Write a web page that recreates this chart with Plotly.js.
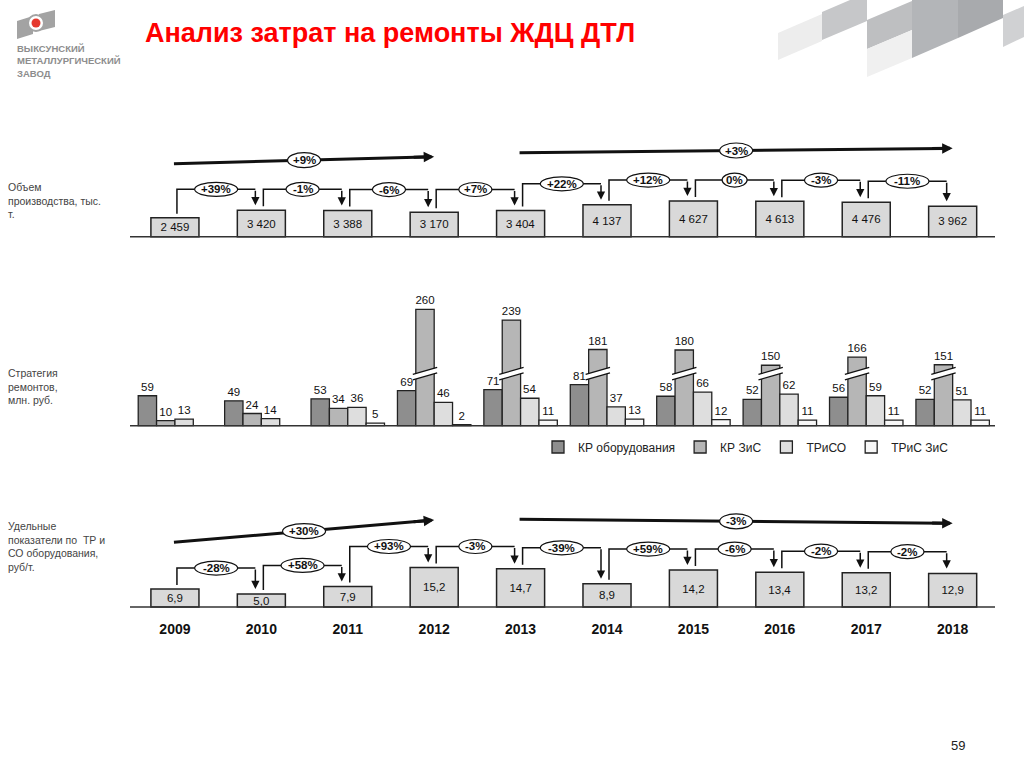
<!DOCTYPE html>
<html><head><meta charset="utf-8">
<script src="https://cdn.plot.ly/plotly-3.0.1.min.js"></script>
<style>html,body{margin:0;padding:0;background:#fff;}#chart{width:1024px;height:767px;}</style>
</head><body><div id="chart"></div>
<script>
// ---------- DATA ----------
const years = ['2009','2010','2011','2012','2013','2014','2015','2016','2017','2018'];
const prodVolume = [2459, 3420, 3388, 3170, 3404, 4137, 4627, 4613, 4476, 3962];
const prodChange = ['+39%','-1%','-6%','+7%','+22%','+12%','0%','-3%','-11%'];
const prodTrend = ['+9%','+3%'];
const seriesNames = ['КР оборудования','КР ЗиС','ТРиСО','ТРиС ЗиС'];
const krEquip = [59, 49, 53, 69, 71, 81, 58, 52, 56, 52];
const krZiS   = [10, 24, 34, 260, 239, 181, 180, 150, 166, 151];
const trSO    = [13, 14, 36, 46, 54, 37, 66, 62, 59, 51];
const trZiS   = [null, null, 5, 2, 11, 13, 12, 11, 11, 11];
const specCost = [6.9, 5.0, 7.9, 15.2, 14.7, 8.9, 14.2, 13.4, 13.2, 12.9];
const specChange = ['-28%','+58%','+93%','-3%','-39%','+59%','-6%','-2%','-2%'];
const specTrend = ['+30%','-3%'];
const trendSpans = [[0,3],[4,9]];
const panelLabels = ['Объем<br>производства, тыс.<br>т.', 'Стратегия<br>ремонтов,<br>млн. руб.', 'Удельные<br>показатели по  ТР и<br>СО оборудования,<br>руб/т.'];

// ---------- GEOMETRY / STYLE ----------
const FONT = 'Liberation Sans, Arial, sans-serif';
const W = 1024, H = 767;
const PL = 130, PR = 29, PT = 100, PB = 158;
const PW = W - PL - PR, PH = H - PT - PB, BOT = H - PB;
const XMIN = -0.52, XMAX = 9.49;
const pxX = PW / (XMAX - XMIN);
const px2xp = px => (px - PL) / PW;
const py2yp = py => (BOT - py) / PH;
function panel(base, top, s) { return {domain: [py2yp(base + 2), py2yp(top)], range: [-2 / s, (base - top) / s]}; }
const P1 = {base: 236.7, top: 138, s: 0.0077};
const P2 = {base: 425.7, top: 292, s: 0.508};
const P3 = {base: 607, top: 505, s: 2.6};
const BOXW = 0.556, BARGAP = 0.15;
const BREAK_MIN = 120, BREAK_CUT = 31, BREAK_PX = 52;

const idx = years.map((_, i) => i);
const fmtInt = v => String(v).replace(/\B(?=(\d{3})+(?!\d))/g, ' ');
const fmtDec = v => v.toFixed(1).replace('.', ',');

const shapes = [], annots = [];

function ellipse(xm, ym, label, yref, h) {
  const w = Math.max(25, label.length * 10 + 3);
  shapes.push({type: 'circle', xref: 'x', yref: yref, xsizemode: 'pixel', ysizemode: 'pixel',
    xanchor: xm, yanchor: ym, x0: -w / 2, x1: w / 2, y0: -h / 2, y1: h / 2,
    fillcolor: '#fff', line: {color: '#111', width: 1.2}});
  annots.push({xref: 'x', yref: yref, x: xm, y: ym, text: label, showarrow: false,
    font: {family: FONT, size: 11.5, color: '#111', weight: 'bold'}, xanchor: 'center', yanchor: 'middle'});
}

function brackets(vals, labels, yref, s) {
  const up = 4 / s, tip = 5 / s, lev = 21 / s;
  const dx0 = 2 / pxX, dx1 = 6 / pxX;
  for (let i = 0; i < vals.length - 1; i++) {
    const x0 = i + dx0, x1 = i + 1 - dx1;
    const yL = Math.max(vals[i], vals[i + 1]) + lev;
    shapes.push({type: 'path', xref: 'x', yref: yref,
      path: `M${x0},${vals[i] + up} L${x0},${yL} L${x1},${yL}`, line: {color: '#111', width: 1.5}});
    annots.push({xref: 'x', yref: yref, axref: 'x', ayref: yref, x: x1, y: vals[i + 1] + tip, ax: x1, ay: yL,
      text: '', showarrow: true, arrowhead: 2, arrowsize: 1.1, arrowwidth: 1.5, arrowcolor: '#111', standoff: 0});
    ellipse((x0 + x1) / 2, yL, labels[i], yref, 14);
  }
}

function trend(span, label, yref, s, y0px, y1px) {
  const x0 = span[0] - 1 / pxX, x1 = span[1];
  const ya = y0px / s, yb = y1px / s;
  const slope = (yb - ya) / (x1 - x0);
  const xe = x1 - 9 / pxX, ye = yb - slope * 9 / pxX;
  shapes.push({type: 'line', xref: 'x', yref: yref, x0: x0, y0: ya, x1: xe, y1: ye, line: {color: '#111', width: 3}});
  const xt = x1 - 22 / pxX, yt = yb - slope * 22 / pxX;
  annots.push({xref: 'x', yref: yref, axref: 'x', ayref: yref, x: x1, y: yb, ax: xt, ay: yt,
    text: '', showarrow: true, arrowhead: 2, arrowsize: 0.7, arrowwidth: 3, arrowcolor: '#111', standoff: 0});
  ellipse((x0 + x1) / 2, (ya + yb) / 2, label, yref, 15);
}

// baselines
['y', 'y2', 'y3'].forEach(r => shapes.push({type: 'line', xref: 'paper', x0: 0, x1: 1, yref: r, y0: 0, y1: 0,
  line: {color: '#333', width: 1.5}}));

brackets(prodVolume, prodChange, 'y', P1.s);
trend(trendSpans[0], prodTrend[0], 'y', P1.s, 73, 80);
trend(trendSpans[1], prodTrend[1], 'y', P1.s, 84, 88.4);
brackets(specCost, specChange, 'y3', P3.s);
trend(trendSpans[0], specTrend[0], 'y3', P3.s, 64.7, 87);
trend(trendSpans[1], specTrend[1], 'y3', P3.s, 87.7, 83.7);

// middle panel: broken bars
const krZiSDisp = krZiS.map(v => v > BREAK_MIN ? v - BREAK_CUT : v);
const bw = (1 - BARGAP) / 4;
krZiS.forEach((v, i) => {
  if (v <= BREAK_MIN) return;
  const c = i - (1 - BARGAP) / 2 + 1.5 * bw;
  const xl = c - bw / 2 - 3 / pxX, xr = c + bw / 2 + 3 / pxX;
  const yb = BREAK_PX / P2.s, dy = 7 / P2.s, g = 5.5 / P2.s;
  const l0 = yb - g / 2 - dy / 2, r0 = yb - g / 2 + dy / 2;
  shapes.push({type: 'path', xref: 'x', yref: 'y2',
    path: `M${xl},${l0} L${xr},${r0} L${xr},${r0 + g} L${xl},${l0 + g} Z`, fillcolor: '#fff', line: {width: 0}});
  shapes.push({type: 'line', xref: 'x', yref: 'y2', x0: xl, y0: l0, x1: xr, y1: r0, line: {color: '#111', width: 1.3}});
  shapes.push({type: 'line', xref: 'x', yref: 'y2', x0: xl, y0: l0 + g, x1: xr, y1: r0 + g, line: {color: '#111', width: 1.3}});
});

// decoration (top-right) and logo
function poly(pts, color) {
  return {type: 'path', xref: 'paper', yref: 'paper', layer: 'below',
    path: 'M' + pts.map(p => px2xp(p[0]) + ',' + py2yp(p[1])).join(' L') + ' Z', fillcolor: color, line: {width: 0}};
}
shapes.push(poly([[778,33],[822,14],[822,41],[778,60]], '#ededed'));
shapes.push(poly([[822,12],[850,0],[867,0],[867,21],[822,40]], '#c6c7c9'));
shapes.push(poly([[867,20],[912,1],[912,30],[867,49]], '#bebfc1'));
shapes.push(poly([[867,49],[912,30],[912,58],[867,77]], '#f0f0f0'));
shapes.push(poly([[912,0],[958,0],[958,38],[912,58]], '#b3b5b8'));
shapes.push(poly([[958,0],[1003,0],[1003,18],[958,38]], '#a8aaad'));
shapes.push(poly([[1003,15],[1024,6],[1024,37],[1003,47]], '#d0d1d3'));
shapes.push(poly([[17,21],[33,16],[33,34],[17,39]], '#a3a3a3'));
shapes.push(poly([[39,14],[55,10],[55,27],[39,31]], '#a3a3a3'));
function circ(cx, cy, r, color, lc) {
  return {type: 'circle', xref: 'paper', yref: 'paper', x0: px2xp(cx - r), x1: px2xp(cx + r),
    y0: py2yp(cy + r), y1: py2yp(cy - r), fillcolor: color, line: lc ? {color: lc, width: 2} : {width: 0}, layer: 'below'};
}
shapes.push(circ(36, 23, 8, '#ffffff', '#a3a3a3'));
shapes.push(circ(36, 23, 4.5, '#e5392e'));

annots.push({xref: 'paper', yref: 'paper', x: px2xp(15), y: py2yp(41), xanchor: 'left', yanchor: 'top', align: 'left',
  showarrow: false, text: 'ВЫКСУНСКИЙ<br>МЕТАЛЛУРГИЧЕСКИЙ<br>ЗАВОД',
  font: {family: FONT, size: 9.5, color: '#8d8d8d', weight: 'bold'}});
[[179, 0], [365, 1], [518, 2]].forEach(([py, k]) => annots.push({xref: 'paper', yref: 'paper', x: px2xp(6), y: py2yp(py),
  xanchor: 'left', yanchor: 'top', align: 'left', showarrow: false, text: panelLabels[k],
  font: {family: FONT, size: 10.5, color: '#444'}}));
annots.push({xref: 'paper', yref: 'paper', x: px2xp(958), y: py2yp(745), xanchor: 'center', yanchor: 'middle',
  showarrow: false, text: '59', font: {family: FONT, size: 13, color: '#222'}});

// ---------- TRACES ----------
const traces = [];
traces.push({type: 'bar', x: idx, y: prodVolume, xaxis: 'x', yaxis: 'y', width: BOXW,
  marker: {color: '#d9d9d9', line: {color: '#222', width: 1.5}},
  text: prodVolume.map(fmtInt), textposition: 'inside', insidetextanchor: 'middle', constraintext: 'none',
  textfont: {family: FONT, size: 11.5, color: '#111'}, showlegend: false, hoverinfo: 'skip', cliponaxis: false});
const midSeries = [krEquip, krZiSDisp, trSO, trZiS];
const midRaw = [krEquip, krZiS, trSO, trZiS];
const midColors = ['#8e8e8e', '#b6b6b6', '#dedede', '#f7f7f7'];
midSeries.forEach((ys, k) => traces.push({type: 'bar', name: seriesNames[k], x: idx, y: ys, xaxis: 'x', yaxis: 'y2',
  marker: {color: midColors[k], line: {color: '#222', width: 1.3}},
  text: midRaw[k].map(v => v == null ? '' : String(v)), textposition: 'outside', constraintext: 'none',
  textfont: {family: FONT, size: 11.5, color: '#111'}, cliponaxis: false, hoverinfo: 'skip'}));
traces.push({type: 'bar', x: idx, y: specCost, xaxis: 'x', yaxis: 'y3', width: BOXW,
  marker: {color: '#d9d9d9', line: {color: '#222', width: 1.5}},
  text: specCost.map(fmtDec), textposition: 'inside', insidetextanchor: 'middle', constraintext: 'none',
  textfont: {family: FONT, size: 11.5, color: '#111'}, showlegend: false, hoverinfo: 'skip', cliponaxis: false});

const p1 = panel(P1.base, P1.top, P1.s), p2 = panel(P2.base, P2.top, P2.s), p3 = panel(P3.base, P3.top, P3.s);
const yCommon = {showticklabels: false, showgrid: false, zeroline: false, ticks: '', showline: false, fixedrange: true};

const layout = {
  width: W, height: H, paper_bgcolor: '#fff', plot_bgcolor: 'rgba(0,0,0,0)',
  margin: {l: PL, r: PR, t: PT, b: PB, pad: 0, autoexpand: false},
  font: {family: FONT, color: '#111'},
  title: {text: 'Анализ затрат на ремонты ЖДЦ ДТЛ', xref: 'container', yref: 'container',
    x: 145 / W, xanchor: 'left', y: 1 - 33 / H, yanchor: 'middle',
    font: {family: FONT, size: 27, color: '#ff0000', weight: 'bold'}},
  barmode: 'group', bargap: BARGAP, bargroupgap: 0,
  showlegend: true,
  legend: {orientation: 'h', xref: 'paper', yref: 'paper', x: px2xp(746), y: py2yp(447),
    xanchor: 'center', yanchor: 'middle', font: {family: FONT, size: 12, color: '#222'}, bgcolor: 'rgba(0,0,0,0)'},
  xaxis: {domain: [0, 1], range: [XMIN, XMAX], anchor: 'y3', tickmode: 'array', tickvals: idx, ticktext: years,
    ticks: 'outside', ticklen: 7, tickcolor: 'rgba(0,0,0,0)', showgrid: false, zeroline: false, showline: false,
    tickfont: {family: FONT, size: 14, color: '#111', weight: 'bold'}, fixedrange: true},
  yaxis: Object.assign({domain: p1.domain, range: p1.range, anchor: 'x'}, yCommon),
  yaxis2: Object.assign({domain: p2.domain, range: p2.range, anchor: 'x'}, yCommon),
  yaxis3: Object.assign({domain: p3.domain, range: p3.range, anchor: 'x'}, yCommon),
  shapes: shapes, annotations: annots
};
Plotly.newPlot('chart', traces, layout, {displayModeBar: false, staticPlot: true});
</script></body></html>
